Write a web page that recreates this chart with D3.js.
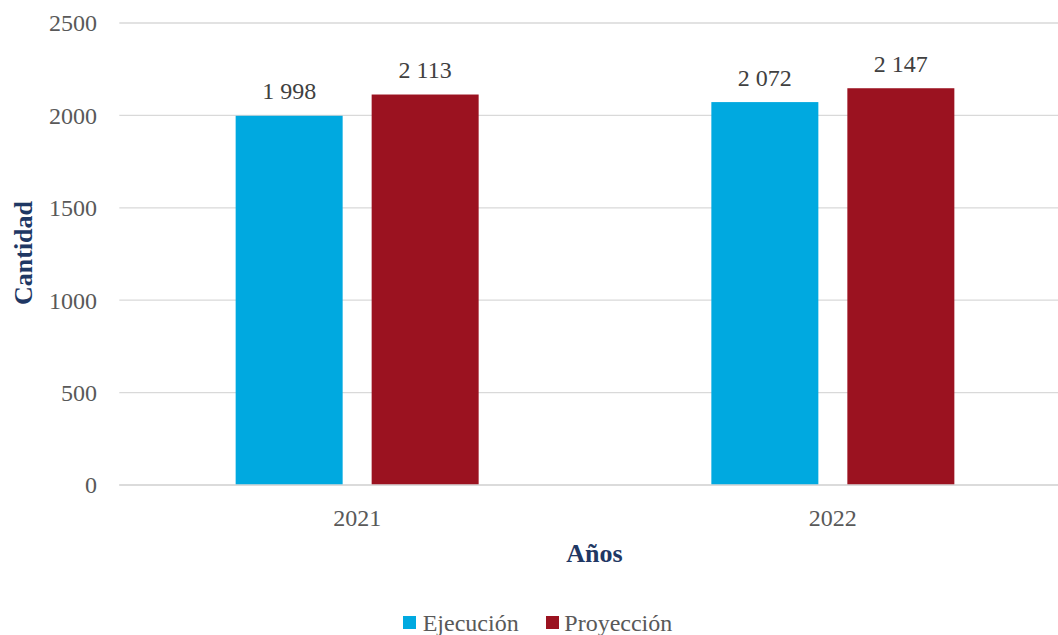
<!DOCTYPE html>
<html>
<head>
<meta charset="utf-8">
<script src="https://cdn.jsdelivr.net/npm/d3@7"></script>
<style>
  html, body { margin: 0; padding: 0; background: #fff; }
  svg { display: block; }
</style>
</head>
<body>
<div id="chart"></div>
<script>
const categories = ["2021", "2022"];
const seriesNames = ["Ejecución", "Proyección"];
const ejecucion = [1998, 2072];
const proyeccion = [2113, 2147];
const yTicks = [0, 500, 1000, 1500, 2000, 2500];
const colors = ["#00A9E0", "#9B1220"];

(function () {
const W = 1058, H = 635;
const font = "'Liberation Serif', 'Times New Roman', serif";
const svg = d3.select("#chart").append("svg").attr("width", W).attr("height", H)
  .style("font-family", font);

const plotL = 119.3, plotR = 1070.7, plotT = 23, plotB = 485;
const x = d3.scaleBand().domain(categories).range([plotL, plotR]).paddingInner(0).paddingOuter(0);
const y = d3.scaleLinear().domain([0, 2500]).range([plotB, plotT]);

// gridlines
svg.append("g").selectAll("line").data(yTicks).join("line")
  .attr("x1", plotL).attr("x2", plotR)
  .attr("y1", d => y(d)).attr("y2", d => y(d))
  .attr("stroke", "#d9d9d9").attr("stroke-width", 1.3);

// y tick labels
svg.append("g").selectAll("text").data(yTicks).join("text")
  .attr("x", 97).attr("y", d => y(d)).attr("dy", "0.35em")
  .attr("text-anchor", "end").attr("font-size", 24).attr("fill", "#595959")
  .text(d => d);

// bars
const barW = 107, gap = 29;
const data = [];
categories.forEach((c, i) => {
  data.push({cat: c, s: 0, v: ejecucion[i]});
  data.push({cat: c, s: 1, v: proyeccion[i]});
});
const barX = d => x(d.cat) + x.bandwidth() / 2 + (d.s === 0 ? -(gap / 2 + barW) : gap / 2);

svg.append("g").selectAll("rect").data(data).join("rect")
  .attr("x", barX).attr("width", barW)
  .attr("y", d => y(d.v)).attr("height", d => y(0) - y(d.v))
  .attr("fill", d => colors[d.s]);

// value labels
const fmt = v => d3.format(",")(v).replace(/,/g, " ");
svg.append("g").selectAll("text").data(data).join("text")
  .attr("x", d => barX(d) + barW / 2).attr("y", d => y(d.v) - 16.5)
  .attr("text-anchor", "middle").attr("font-size", 24).attr("fill", "#404040")
  .text(d => fmt(d.v));

// x axis line
svg.append("line").attr("x1", plotL).attr("x2", plotR).attr("y1", y(0)).attr("y2", y(0))
  .attr("stroke", "#d9d9d9").attr("stroke-width", 1.3);

// x tick labels
svg.append("g").selectAll("text").data(categories).join("text")
  .attr("x", d => x(d) + x.bandwidth() / 2).attr("y", 526)
  .attr("text-anchor", "middle").attr("font-size", 24).attr("fill", "#595959")
  .text(d => d);

// axis titles
svg.append("text").attr("x", 594.5).attr("y", 562)
  .attr("text-anchor", "middle").attr("font-size", 26).attr("font-weight", "bold")
  .attr("fill", "#1F3864").text("Años");
svg.append("text").attr("transform", "translate(32,253) rotate(-90)")
  .attr("text-anchor", "middle").attr("font-size", 26).attr("font-weight", "bold")
  .attr("fill", "#1F3864").text("Cantidad");

// legend
const legendItems = [{name: seriesNames[0], sx: 403, tx: 422.7}, {name: seriesNames[1], sx: 546, tx: 564.3}];
const lg = svg.append("g");
lg.selectAll("rect").data(legendItems).join("rect")
  .attr("x", d => d.sx).attr("y", 616).attr("width", 13).attr("height", 13)
  .attr("fill", (d, i) => colors[i]);
lg.selectAll("text").data(legendItems).join("text")
  .attr("x", d => d.tx).attr("y", 630.5).attr("font-size", 24).attr("fill", "#595959")
  .text(d => d.name);
})();
</script>
</body>
</html>
